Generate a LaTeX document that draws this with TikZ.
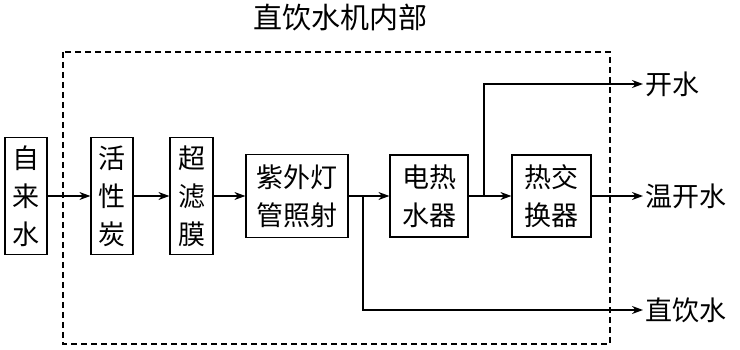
\documentclass[tikz,border=0pt]{standalone}
\usepackage{fontspec}
\newfontfamily\cjk{Noto Sans CJK SC}
\usetikzlibrary{arrows.meta}
\tikzset{
  blk/.style={draw, line width=1.2pt, inner sep=0pt, align=center},
  flow/.style={-{Stealth[length=11pt,width=8pt]}, line width=1.2pt},
  outlbl/.style={anchor=west, inner sep=2pt}
}

\begin{document}
\begin{tikzpicture}[x=1pt, y=-1pt,
      every node/.style={font=\cjk\fontsize{27}{38}\selectfont}]
    \useasboundingbox (0,0) rectangle (740,350);
    % enclosure of the machine
    \draw[dashed, dash pattern=on 6pt off 4pt, line width=1.2pt]
          (63,52) rectangle (610,344);
    \node[font=\cjk\fontsize{29}{36}\selectfont] (title) at (340,18) {直饮水机内部};
    % treatment stages
    \node[blk, minimum width=42pt, minimum height=117pt] (tap) at (26,196) {自\\来\\水};
    \node[blk, minimum width=42pt, minimum height=117pt] (carbon) at (112,196) {活\\性\\炭};
    \node[blk, minimum width=43pt, minimum height=117pt] (uf) at (191.5,196) {超\\滤\\膜};
    \node[blk, minimum width=102pt, minimum height=83pt] (uv) at (297,196) {紫外灯\\管照射};
    \node[blk, minimum width=78pt, minimum height=82pt] (heater) at (429,196) {电热\\水器};
    \node[blk, minimum width=79pt, minimum height=82pt] (hx) at (551.5,196) {热交\\换器};
    % outlets
    \node[outlbl] (boil) at (643,84) {开水};
    \node[outlbl] (warm) at (643,196) {温开水};
    \node[outlbl] (drink) at (643,310) {直饮水};
    \coordinate (tapdrink) at (363,196);
    \coordinate (tapboil) at (484,196);
    \draw[flow] (tap.east) -- (carbon.west);
    \draw[flow] (carbon.east) -- (uf.west);
    \draw[flow] (uf.east) -- (uv.west);
    \draw[flow] (uv.east) -- (heater.west);
    \draw[flow] (heater.east) -- (hx.west);
    \draw[flow] (hx.east) -- (warm.west);
    \draw[flow] (tapdrink) |- (drink.west);
    \draw[flow] (tapboil) |- (boil.west);
  \end{tikzpicture}
\end{document}
